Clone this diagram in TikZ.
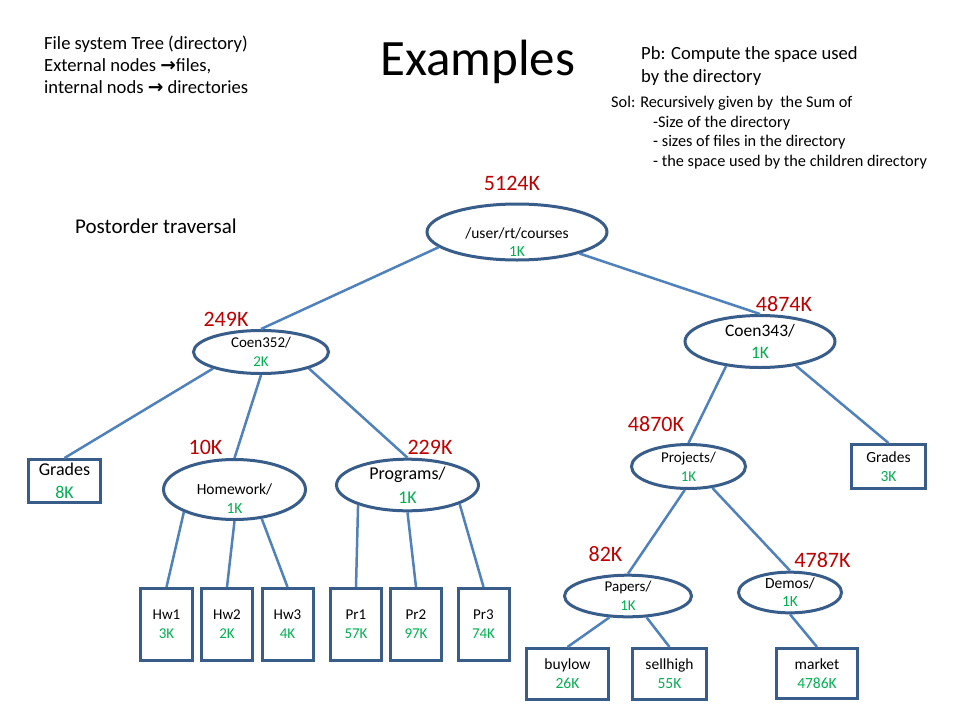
\documentclass[tikz,border=0pt]{standalone}
\usepackage{fontspec}
\setmainfont{Carlito}
\newfontfamily\arrowfont{DejaVu Sans}
\usetikzlibrary{shapes.geometric}

\definecolor{dirblue}{RGB}{56,93,138}
\definecolor{edgeblue}{RGB}{79,129,189}
\definecolor{totalred}{RGB}{192,0,0}
\definecolor{sizegreen}{RGB}{0,176,80}
\newcommand{\sz}[1]{\textcolor{sizegreen}{#1}}
\newcommand{\fs}[2]{\fontsize{#1}{#2}\selectfont}

\begin{document}
\begin{tikzpicture}[x=1pt,y=-1pt,
  dir/.style={ellipse,draw=dirblue,line width=3pt,align=center,inner sep=0pt},
  file/.style={rectangle,draw=dirblue,line width=3pt,align=center,inner sep=0pt},
  edge/.style={draw=edgeblue,line width=2.5pt},
  total/.style={text=totalred,font=\fs{22}{26},inner sep=0pt},
  note/.style={align=left,inner sep=0pt}]
\useasboundingbox[fill=white] (0,0) rectangle (960,720);

% text of the slide
\node[note,anchor=north west,font=\fs{18.6}{22}] (intro) at (44,36)
  {File system Tree (directory)\\External nodes {\arrowfont\bfseries→}files,\\internal nods {\arrowfont\bfseries→} directories};
\node[note,anchor=base west,font=\fs{51}{60}] (title) at (380,75) {Examples};
\node[note,anchor=north west,font=\fs{18.6}{23}] (problem) at (641,46)
  {Pb: Compute the space used\\by the directory};
\node[note,anchor=north west,font=\fs{16.3}{19.5}] (solution) at (611,96)
  {Sol: Recursively given by \ the Sum of\\%
   \hspace*{42pt}-Size of the directory\\%
   \hspace*{42pt}- sizes of files in the directory\\%
   \hspace*{42pt}- the space used by the children directory};
\node[note,anchor=base west,font=\fs{21}{25}] (traversal) at (75,233) {Postorder traversal};

% directories
\node[dir,minimum width=180,minimum height=56] (root) at (517,232) {};
\node[align=center,font=\fs{15.5}{18},inner sep=0pt] (roottxt) at (517,242) {/user/rt/courses\\\sz{1K}};
\node[dir,minimum width=135,minimum height=43,font=\fs{15}{19}] (coen352) at (261,352) {Coen352/\\\sz{2K}};
\node[dir,minimum width=150,minimum height=52,font=\fs{17.5}{22}] (coen343) at (760,341.5) {Coen343/\\\sz{1K}};
\node[dir,minimum width=142,minimum height=60] (homework) at (234.5,489.5) {};
\node[align=center,font=\fs{15.5}{19},inner sep=0pt] (homeworktxt) at (234.5,498.5) {Homework/\\\sz{1K}};
\node[dir,minimum width=142,minimum height=51,font=\fs{18}{24}] (programs) at (407.5,485) {Programs/\\\sz{1K}};
\node[dir,minimum width=114,minimum height=44,font=\fs{15}{19}] (projects) at (688.5,466.5) {Projects/\\\sz{1K}};
\node[dir,minimum width=127,minimum height=39,font=\fs{15}{19}] (papers) at (628,596) {Papers/\\\sz{1K}};
\node[dir,minimum width=103,minimum height=30,font=\fs{15.5}{18}] (demos) at (790,592.5) {Demos/\\\sz{1K}};

% files
\node[file,minimum width=72,minimum height=43,font=\fs{18}{23}] (gradesA) at (64.5,481) {Grades\\\sz{8K}};
\node[file,minimum width=74,minimum height=44,font=\fs{15.5}{19}] (gradesB) at (888.5,466.5) {Grades\\\sz{3K}};
\node[file,minimum width=52,minimum height=72,font=\fs{15}{19}] (hw1) at (166.5,624.5) {Hw1\\\sz{3K}};
\node[file,minimum width=51,minimum height=72,font=\fs{15}{19}] (hw2) at (227,624.5) {Hw2\\\sz{2K}};
\node[file,minimum width=51,minimum height=72,font=\fs{15}{19}] (hw3) at (287.5,624.5) {Hw3\\\sz{4K}};
\node[file,minimum width=51,minimum height=72,font=\fs{15}{19}] (pr1) at (356,624.5) {Pr1\\\sz{57K}};
\node[file,minimum width=51,minimum height=72,font=\fs{15}{19}] (pr2) at (416,624.5) {Pr2\\\sz{97K}};
\node[file,minimum width=51,minimum height=72,font=\fs{15}{19}] (pr3) at (483.5,624.5) {Pr3\\\sz{74K}};
\node[file,minimum width=82,minimum height=51,font=\fs{15.5}{19}] (buylow) at (567.5,674) {buylow\\\sz{26K}};
\node[file,minimum width=74,minimum height=51,font=\fs{15.5}{19}] (sellhigh) at (669.5,674) {sellhigh\\\sz{55K}};
\node[file,minimum width=81,minimum height=50,font=\fs{15.5}{19}] (market) at (817,673.5) {market\\\sz{4786K}};

% space used
\node[total] (troot) at (512,183) {5124K};
\node[total] (t352) at (226,319.5) {249K};
\node[total] (t343) at (784,304) {4874K};
\node[total] (thw) at (205.5,447.5) {10K};
\node[total] (tpr) at (430,447.5) {229K};
\node[total] (tproj) at (656,424.5) {4870K};
\node[total] (tpap) at (605.5,554.5) {82K};
\node[total] (tdem) at (822.5,560.5) {4787K};

% tree edges
\draw[edge] (root.191) -- (coen352.north);
\draw[edge] (root.341) -- (coen343.north);
\draw[edge] (coen352.199) -- (gradesA.north);
\draw[edge] (coen352.south) -- (homework.north);
\draw[edge] (coen352.341) -- (programs.north);
\draw[edge] (coen343.216) -- (projects.north);
\draw[edge] (coen343.326) -- (gradesB.north);
\draw[edge] (homework.204) -- (hw1.north);
\draw[edge] (homework.south) -- (hw2.north);
\draw[edge] (homework.313) -- (hw3.north);
\draw[edge] (programs.202) -- (pr1.north);
\draw[edge] (programs.south) -- (pr2.north);
\draw[edge] (programs.340) -- (pr3.north);
\draw[edge] (projects.261) -- (papers.north);
\draw[edge] (projects.318) -- (demos.north);
\draw[edge] (papers.229) -- (buylow.north);
\draw[edge] (papers.311) -- (sellhigh.north);
\draw[edge] (demos.south) -- (market.north);
\end{tikzpicture}
\end{document}
